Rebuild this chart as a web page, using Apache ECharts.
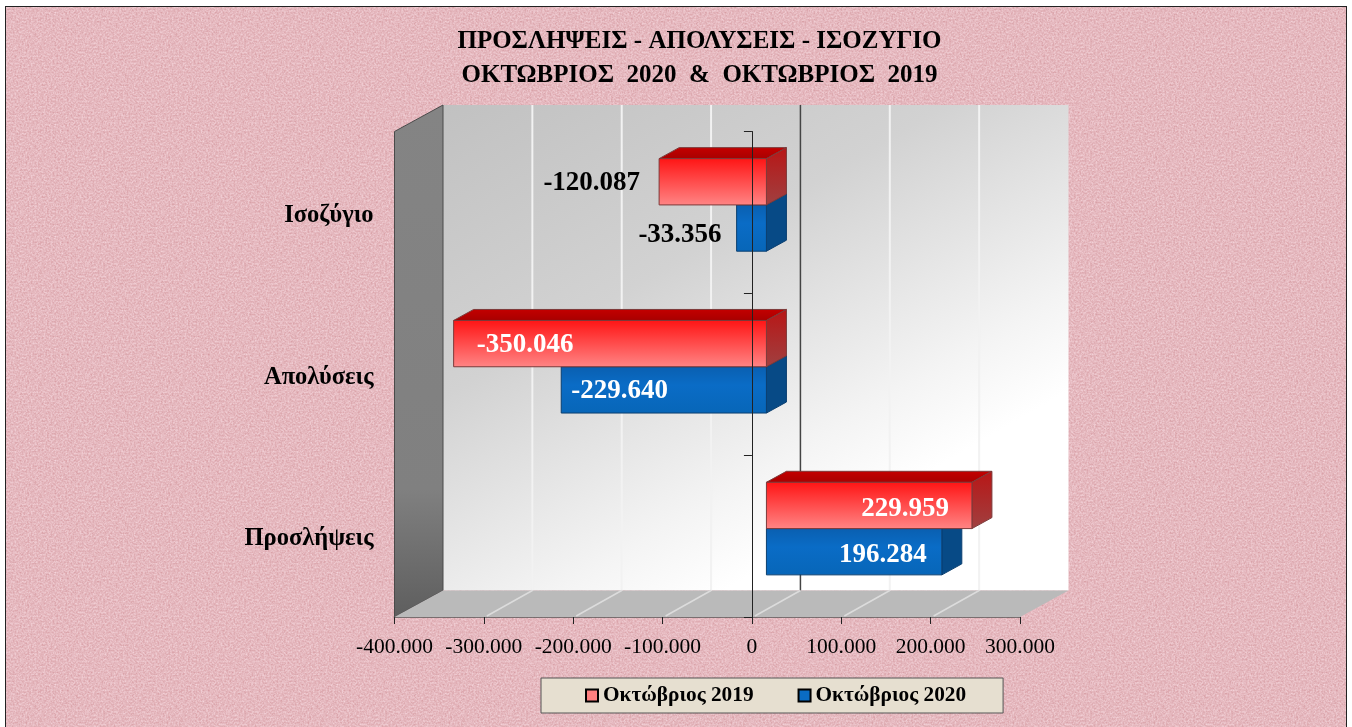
<!DOCTYPE html>
<html><head><meta charset="utf-8">
<style>
html,body{margin:0;padding:0;background:#fff;width:1352px;height:727px;overflow:hidden}
#frame{position:absolute;left:5px;top:6px;width:1340px;height:721px;border:1px solid #222;border-bottom:none;
background-color:#e6bcc0;
background-image:url("data:image/svg+xml;utf8,<svg xmlns='http://www.w3.org/2000/svg' width='141' height='112'><filter id='n' color-interpolation-filters='sRGB' x='0' y='0' width='100%' height='100%'><feTurbulence type='fractalNoise' baseFrequency='.55' numOctaves='3' seed='5' stitchTiles='stitch'/><feColorMatrix values='.14 0 0 0 .83  .26 0 0 0 .595  .26 0 0 0 .62  0 0 0 0 1'/></filter><rect width='141' height='112' filter='url(%23n)'/></svg>");}
#c{position:absolute;left:0;top:0;width:1352px;height:727px}
</style>
<script src="https://cdn.jsdelivr.net/npm/echarts@6/dist/echarts.min.js"></script>
</head><body><div id="frame"></div><div id="c"></div>
<script>
const categories = ['Προσλήψεις', 'Απολύσεις', 'Ισοζύγιο'];
const values2019 = [229959, -350046, -120087];
const values2020 = [196284, -229640, -33356];
const name2019 = 'Οκτώβριος 2019';
const name2020 = 'Οκτώβριος 2020';
const xTicks = [-400000, -300000, -200000, -100000, 0, 100000, 200000, 300000];
const titleText = 'ΠΡΟΣΛΗΨΕΙΣ - ΑΠΟΛΥΣΕΙΣ - ΙΣΟΖΥΓΙΟ\nΟΚΤΩΒΡΙΟΣ  2020  &  ΟΚΤΩΒΡΙΟΣ  2019';

const SERIF = '"Liberation Serif","Noto Serif",serif';
const fmt = v => {
  const s = String(Math.abs(v)).replace(/\B(?=(\d{3})+$)/g, '.');
  return (v < 0 ? '-' : '') + s;
};
const DX = 48.5, DY = -26.5;        // depth of the 3-D box
const BX = 14.5, BY = -7.5;         // bar front plane offset
const SX = 20, SY = -11;            // bar depth
const lg = (stops, x2, y2) => new echarts.graphic.LinearGradient(0, 0, x2, y2, stops);

const themes = {
  r: {
    front: lg([{offset:0,color:'#ff1414'},{offset:1,color:'#ff8585'}],0,1),
    top: lg([{offset:0,color:'#c40000'},{offset:1,color:'#a80000'}],0,1),
    side: lg([{offset:0,color:'#b81616'},{offset:1,color:'#a04040'}],0,1),
    stroke:'#7c3a3a'
  },
  b: {
    front: lg([{offset:0,color:'#0a5fb0'},{offset:.4,color:'#0a6cc6'},{offset:1,color:'#0766b8'}],0,1),
    top:'#084f8f',
    side:'#074a86',
    stroke:'#0b3f70'
  }
};
// where each value label sits against its bar: [inset px, text align, colour, vertical nudge]
const labelPlace = {
  'r0':[23,'right','#fff',3], 'b0':[15,'right','#fff',2],
  'r1':[-23,'left','#fff',0], 'b1':[-10,'left','#fff',0],
  'r2':[19,'right','#000',0], 'b2':[15,'right','#000',6]
};

function barItem(key, slot) {
  return function (params, api) {
    const cat = api.value(0), val = api.value(1);
    const band = api.size([0, 1])[1];
    const h = band * 0.286;
    const c = api.coord([val, cat]), z = api.coord([0, cat]);
    const yTop = c[1] + BY + (slot === 0 ? -h : 0);
    const xv = c[0] + BX, x0 = z[0] + BX;
    const l = Math.min(xv, x0), r = Math.max(xv, x0), b = yTop + h;
    const t = themes[key];
    const st = {stroke:t.stroke, lineWidth:1};
    const pl = labelPlace[key + params.dataIndex];
    const tx = xv - pl[0];
    return {type:'group', children:[
      {type:'polygon', shape:{points:[[l,yTop],[l+SX,yTop+SY],[r+SX,yTop+SY],[r,yTop]]}, style:{fill:t.top, ...st}},
      {type:'polygon', shape:{points:[[r,yTop],[r+SX,yTop+SY],[r+SX,b+SY],[r,b]]}, style:{fill:t.side, ...st}},
      {type:'rect', shape:{x:l,y:yTop,width:r-l,height:h}, style:{fill:t.front, ...st}},
      {type:'text', z2:10, style:{text:fmt(val), x:tx, y:yTop+h/2+1+pl[3], align:pl[1], verticalAlign:'middle',
        fill:pl[2], font:'bold 27px '+SERIF}}
    ]};
  };
}

function boxItem(params, api) {
  const ext = [xTicks[0], xTicks[xTicks.length-1]];
  const band = api.size([0, 1])[1];
  const bottom = api.coord([ext[0], 0])[1] + band / 2;
  const top = api.coord([ext[0], categories.length - 1])[1] - band / 2;
  const xl = api.coord([ext[0], 0])[0], xr = api.coord([ext[1], 0])[0];
  const ch = [];
  ch.push({type:'polygon', shape:{points:[[xl+DX,top+DY],[xr+DX,top+DY],[xr+DX,bottom+DY],[xl+DX,bottom+DY]]},
    style:{fill:lg([{offset:0,color:'#c1c1c1'},{offset:.45,color:'#d2d2d2'},{offset:.85,color:'#f4f4f4'},{offset:1,color:'#ffffff'}],.45,1)}});
  ch.push({type:'polygon', shape:{points:[[xl,top],[xl+DX,top+DY],[xl+DX,bottom+DY],[xl,bottom]]},
    style:{fill:lg([{offset:0,color:'#848484'},{offset:.75,color:'#808080'},{offset:1,color:'#5e5e5e'}],0,1), stroke:'#4a4a4a', lineWidth:1}});
  ch.push({type:'polygon', shape:{points:[[xl,bottom],[xl+DX,bottom+DY],[xr+DX,bottom+DY],[xr,bottom]]},
    style:{fill:'#bababa'}});
  xTicks.forEach((v,i) => {
    const px = api.coord([v,0])[0];
    const zero = v === 0;
    if (i > 0 && i < xTicks.length-1) {
      ch.push({type:'line', shape:{x1:px+DX,y1:top+DY,x2:px+DX,y2:bottom+DY},
        style:{stroke:zero?'#444':'#f2f2f2', lineWidth:zero?1.5:2}});
      ch.push({type:'line', shape:{x1:px+3,y1:bottom-1,x2:px+DX,y2:bottom+DY},
        style:{stroke:'#dcdcdc', lineWidth:1.5}});
    }
  });
  return {type:'group', children:ch};
}

const chart = echarts.init(document.getElementById('c'), null, {renderer:'canvas'});
chart.setOption({
  animation:false,
  backgroundColor:'transparent',
  title:{text:titleText, left:694.5, top:20, textAlign:'center',
    textStyle:{fontFamily:SERIF, fontWeight:'bold', fontSize:25, lineHeight:34, color:'#000'}},
  legend:{data:[name2019,name2020], left:541, top:678, orient:'horizontal',
    padding:[7,37,7,44], itemGap:44, itemWidth:12, itemHeight:12, icon:'rect',
    backgroundColor:'#e6dfd0', borderColor:'#555', borderWidth:1,
    itemStyle:{borderColor:'#000', borderWidth:2},
    textStyle:{fontFamily:SERIF, fontWeight:'bold', fontSize:21.3, color:'#000', padding:[1,0,0,0]}},
  grid:{left:394.5, right:332, top:131.5, bottom:110, containLabel:false},
  xAxis:{type:'value', min:-400000, max:300000, interval:100000, splitLine:{show:false},
    axisLine:{show:true, onZero:false, lineStyle:{color:'#555', width:1.5}},
    axisTick:{show:true, length:7, lineStyle:{color:'#222'}},
    axisLabel:{fontFamily:SERIF, fontSize:21.5, color:'#000', margin:19, formatter:fmt, hideOverlap:false}},
  yAxis:[
    {type:'category', data:categories, axisLine:{show:false, onZero:false}, axisTick:{show:false},
     axisLabel:{fontFamily:SERIF, fontWeight:'bold', fontSize:24.5, color:'#000', margin:21, verticalAlign:'top', lineHeight:6}},
    {type:'category', data:categories, position:'left', z:10, axisLine:{show:true,onZero:true, lineStyle:{color:'#222',width:1}},
     axisTick:{show:true,length:8,lineStyle:{color:'#222'}}, axisLabel:{show:false}}
  ],
  series:[
    {type:'custom', name:'box', silent:true, z:1, data:[0], encode:{x:0}, renderItem:boxItem},
    {type:'custom', name:name2020, z:2, itemStyle:{color:'#0a6cc4'}, encode:{x:1,y:0},
      data:values2020.map((v,i)=>[i,v]), renderItem:barItem('b',1)},
    {type:'custom', name:name2019, z:3, itemStyle:{color:'#ff8080'}, encode:{x:1,y:0},
      data:values2019.map((v,i)=>[i,v]), renderItem:barItem('r',0)}
  ]
});
</script></body></html>
